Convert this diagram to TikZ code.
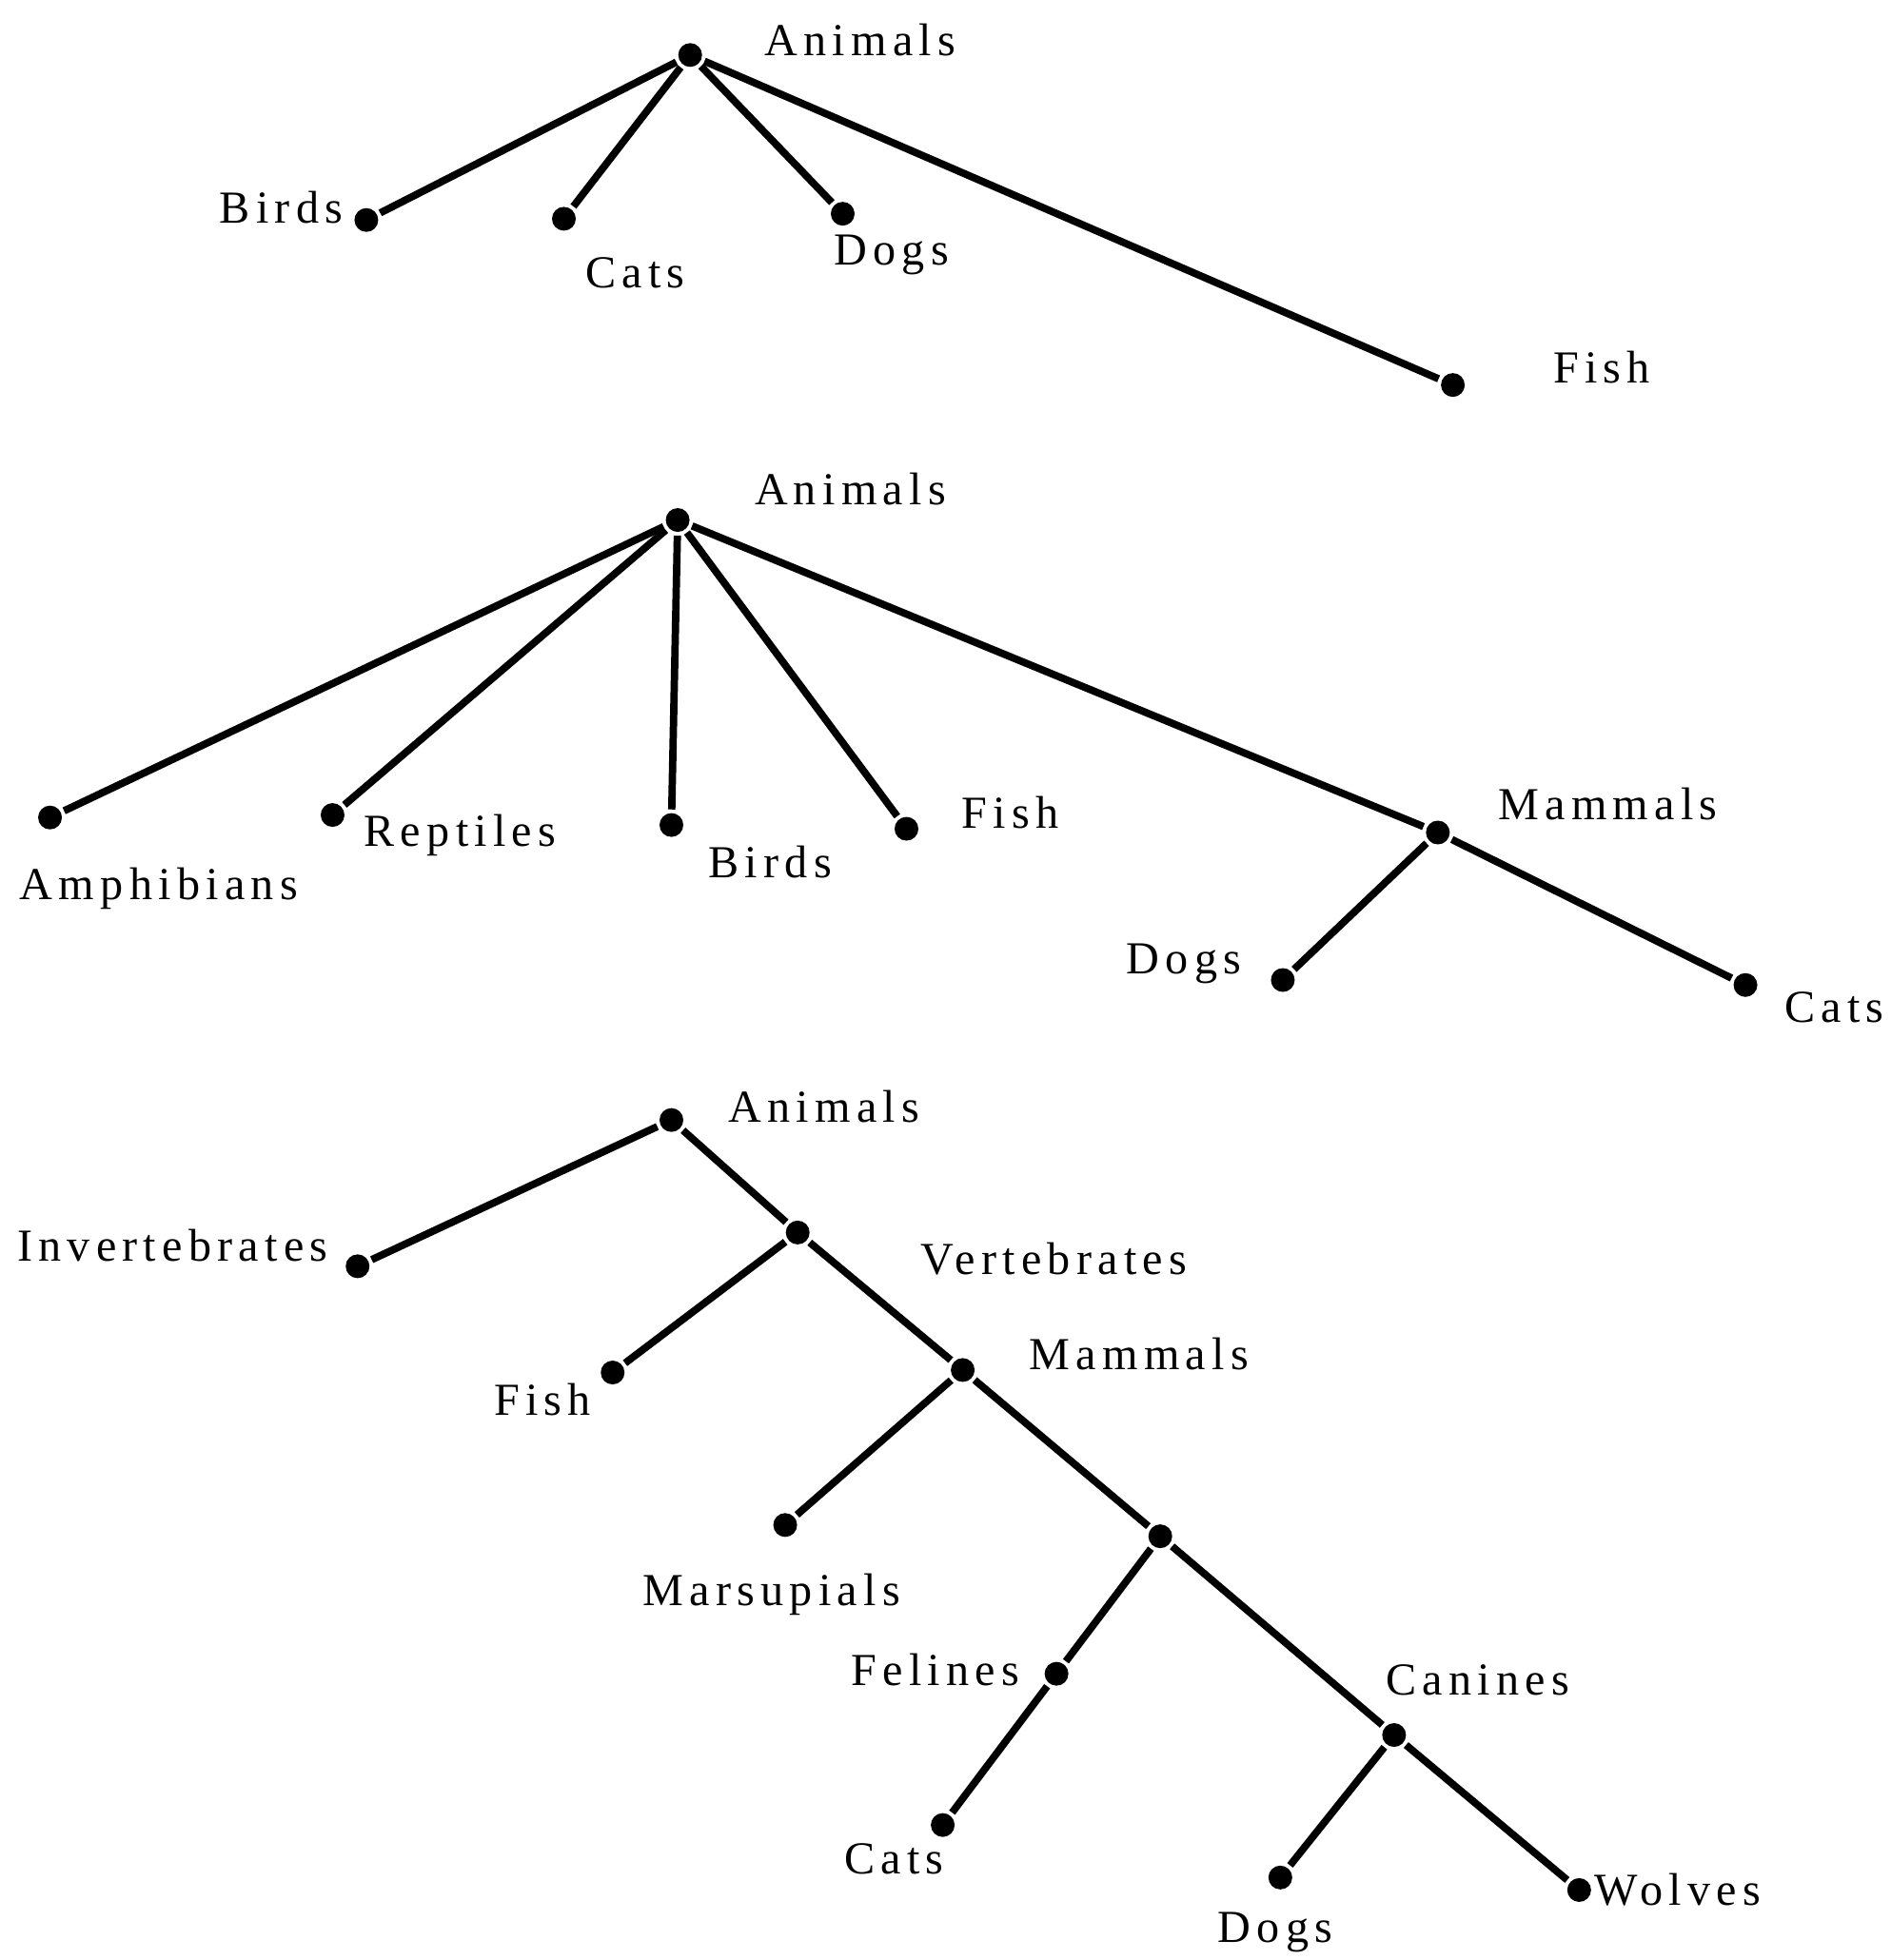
\documentclass[tikz,border=0pt]{standalone}
\usepackage{fontspec}
\setmainfont{Liberation Serif}[LetterSpace=13]
\usepackage{tikz}

\begin{document}
\begin{tikzpicture}[x=0.01314cm,y=-0.01314cm
	,line width=2.2pt
	,every node/.style={font=\fontsize{13.7}{16}\selectfont}]
  \tikzstyle{dot}
  =[circle,fill=black,inner sep=0pt,minimum size=0.25cm]
  \useasboundingbox (0,0) rectangle (1512,1568);

  % tree 1
  \node[dot](an1) at (552,44) {};
  \node[dot](bi1) at (293,176) {};
  \node[dot](ca1) at (451,175) {};
  \node[dot](do1) at (674,171) {};
  \node[dot](fi1) at (1162,308) {};
  \node at (688,32)  {Animals};
  \node at (225,166) {Birds};
  \node at (508,218) {Cats};
  \node at (713,204) {Dogs};
  \node at (1281,294) {Fish};

  % tree 2
  \node[dot](an2) at (542,416) {};
  \node[dot](am2) at (40,654) {};
  \node[dot](re2) at (266,652) {};
  \node[dot](bi2) at (537,660) {};
  \node[dot](fi2) at (725,663) {};
  \node[dot](ma2) at (1150,666) {};
  \node[dot](do2) at (1026,784) {};
  \node[dot](ca2) at (1396,788) {};
  \node at (680,391) {Animals};
  \node at (127,711) {Amphibians};
  \node at (368,668) {Reptiles};
  \node at (616,690) {Birds};
  \node at (808,650) {Fish};
  \node at (1286,643) {Mammals};
  \node at (947,771) {Dogs};
  \node at (1467,806) {Cats};

  % tree 3
  \node[dot](an3) at (537,896) {};
  \node[dot](in3) at (286,1013) {};
  \node[dot](ve3) at (638,986) {};
  \node[dot](fi3) at (490,1098) {};
  \node[dot](ma3) at (770,1096) {};
  \node[dot](mr3) at (628,1220) {};
  \node[dot](pl3) at (928,1229) {};
  \node[dot](fe3) at (845,1339) {};
  \node[dot](ca3) at (754,1460) {};
  \node[dot](cn3) at (1115,1388) {};
  \node[dot](do3) at (1024,1502) {};
  \node[dot](wo3) at (1263,1512) {};
  \node at (659,885)  {Animals};
  \node at (138,996)  {Invertebrates};
  \node at (843,1007) {Vertebrates};
  \node at (434,1120) {Fish};
  \node at (911,1083) {Mammals};
  \node at (617,1276) {Marsupials};
  \node at (748,1336) {Felines};
  \node at (715,1487) {Cats};
  \node at (1182,1344) {Canines};
  \node at (1020,1546) {Dogs};
  \node at (1342,1512) {Wolves};

  % edges, top to bottom
  \path (an1) edge (bi1) edge (ca1) edge (do1) edge (fi1);
  \path (an2) edge (am2) edge (re2) edge (bi2) edge (fi2) edge (ma2);
  \path (ma2) edge (do2) edge (ca2);
  \path (an3) edge (in3) edge (ve3);
  \path (ve3) edge (fi3) edge (ma3);
  \path (ma3) edge (mr3) edge (pl3);
  \path (pl3) edge (fe3) edge (cn3);
  \path (fe3) edge (ca3);
  \path (cn3) edge (do3) edge (wo3);

\end{tikzpicture}
\end{document}
